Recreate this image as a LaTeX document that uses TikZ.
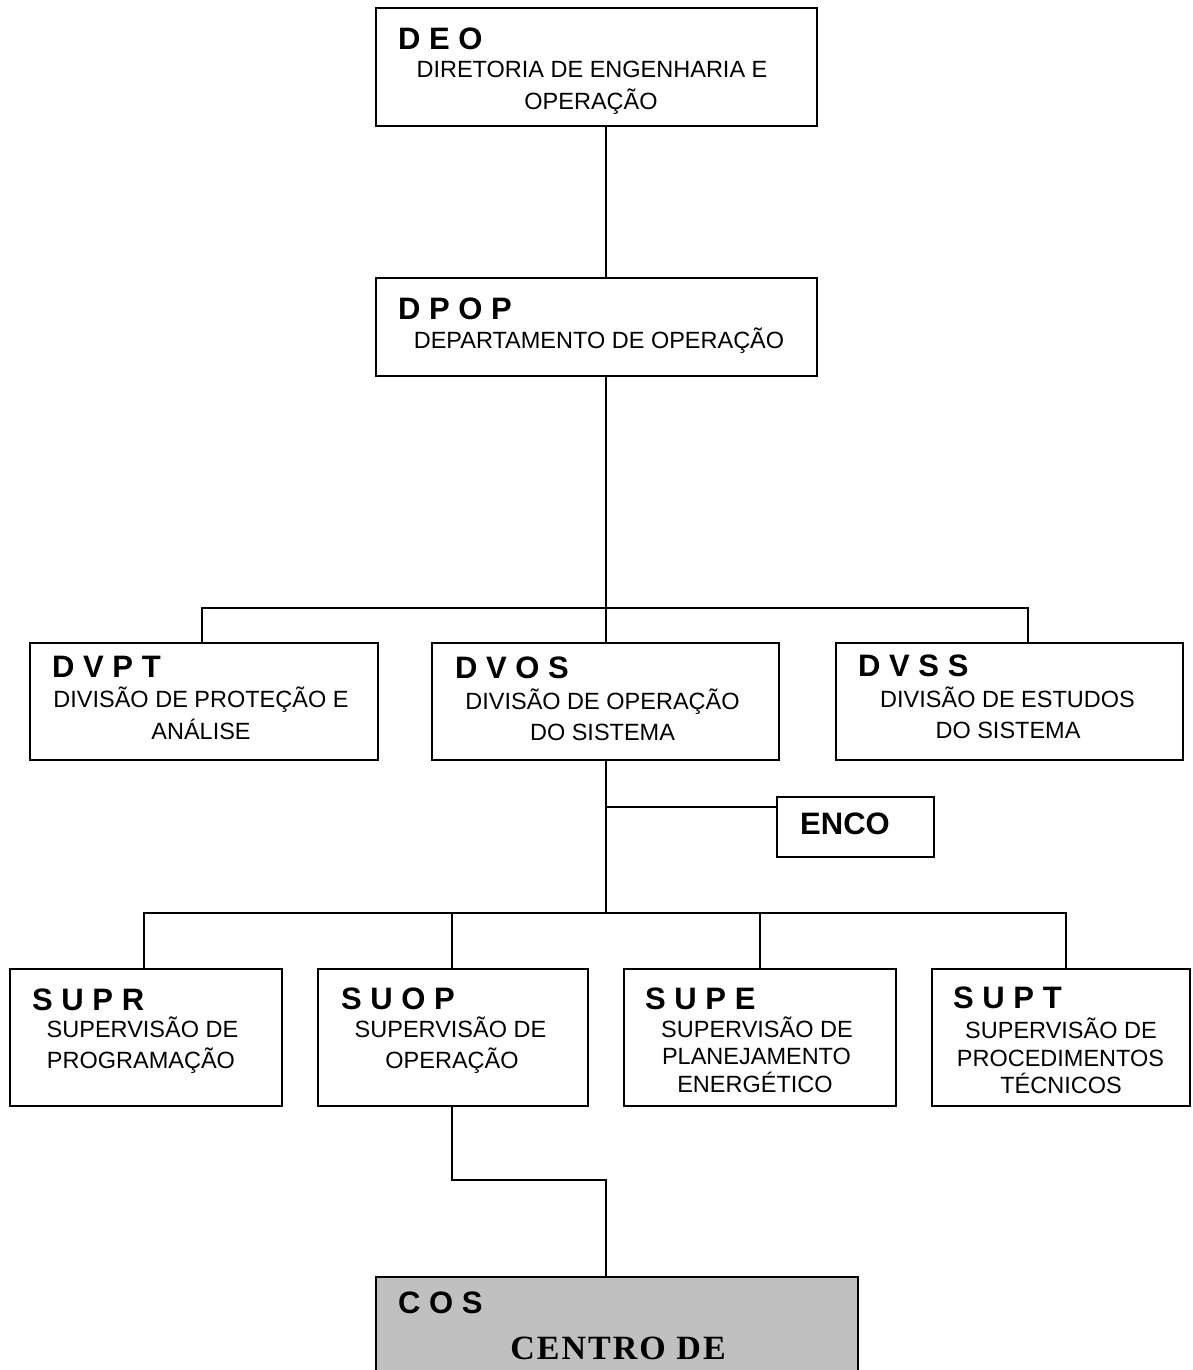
\documentclass[tikz,border=0pt]{standalone}
\usepackage{fontspec}
\setmainfont{Liberation Sans}
\newfontfamily\cosserif{Liberation Serif}[LetterSpace=6]
\definecolor{cosgray}{RGB}{192,192,192}
\tikzset{
  box/.style={draw=black, line width=2pt, rectangle, inner sep=0pt, outer sep=0pt},
  hd/.style={inner sep=0pt, anchor=base west, font=\fontsize{31}{31}\selectfont\bfseries},
  bd/.style={inner sep=0pt, anchor=base, font=\fontsize{23.5}{23.5}\selectfont},
  conn/.style={line width=2pt, line cap=rect}
}
\begin{document}
\begin{tikzpicture}[x=1pt,y=-1pt]
\useasboundingbox (0,0) rectangle (1192,1370);
\clip (0,0) rectangle (1192,1370);
\fill[white] (0,0) rectangle (1192,1370);

% ---------- boxes ----------
\node[box, minimum width=441pt, minimum height=118pt] (deo)  at (596.5,67) {};
\node[box, minimum width=441pt, minimum height=98pt]  (dpop) at (596.5,327) {};
\node[box, minimum width=348pt, minimum height=117pt] (dvpt) at (204,701.5) {};
\node[box, minimum width=347pt, minimum height=117pt] (dvos) at (605.5,701.5) {};
\node[box, minimum width=347pt, minimum height=117pt] (dvss) at (1009.5,701.5) {};
\node[box, minimum width=157pt, minimum height=60pt]  (enco) at (855.5,827) {};
\node[box, minimum width=272pt, minimum height=137pt] (supr) at (146,1037.5) {};
\node[box, minimum width=270pt, minimum height=137pt] (suop) at (453,1037.5) {};
\node[box, minimum width=272pt, minimum height=137pt] (supe) at (760,1037.5) {};
\node[box, minimum width=258pt, minimum height=137pt] (supt) at (1061,1037.5) {};
\node[box, fill=cosgray, minimum width=482pt, minimum height=123pt] (cos) at (617,1338.5) {};

% ---------- texts ----------
\node[hd] (deo-h) at (398,50) {D E O};
\node[bd] (deo-1) at (592,78) {DIRETORIA DE ENGENHARIA E};
\node[bd] (deo-2) at (591,110) {OPERAÇÃO};

\node[hd] (dpop-h) at (398,319) {D P O P};
\node[bd] (dpop-1) at (599,348) {DEPARTAMENTO DE OPERAÇÃO};

\node[hd] (dvpt-h) at (52,677) {D V P T};
\node[bd] (dvpt-1) at (201,707) {DIVISÃO DE PROTEÇÃO E};
\node[bd] (dvpt-2) at (201,739) {ANÁLISE};

\node[hd] (dvos-h) at (455,678) {D V O S};
\node[bd] (dvos-1) at (602.5,709) {DIVISÃO DE OPERAÇÃO};
\node[bd] (dvos-2) at (602.5,740) {DO SISTEMA};

\node[hd] (dvss-h) at (858,676) {D V S S};
\node[bd] (dvss-1) at (1007.5,707) {DIVISÃO DE ESTUDOS};
\node[bd] (dvss-2) at (1008,738) {DO SISTEMA};

\node[hd] (enco-h) at (800,834) {ENCO};

\node[hd] (supr-h) at (32,1010) {S U P R};
\node[bd] (supr-1) at (142.5,1037) {SUPERVISÃO DE};
\node[bd] (supr-2) at (141,1068) {PROGRAMAÇÃO};

\node[hd] (suop-h) at (341,1009) {S U O P};
\node[bd] (suop-1) at (450.5,1037) {SUPERVISÃO DE};
\node[bd] (suop-2) at (452,1068) {OPERAÇÃO};

\node[hd] (supe-h) at (645,1009) {S U P E};
\node[bd] (supe-1) at (757,1037) {SUPERVISÃO DE};
\node[bd] (supe-2) at (756.5,1064) {PLANEJAMENTO};
\node[bd] (supe-3) at (755,1092) {ENERGÉTICO};

\node[hd] (supt-h) at (953,1008) {S U P T};
\node[bd] (supt-1) at (1061,1038) {SUPERVISÃO DE};
\node[bd] (supt-2) at (1060.5,1066) {PROCEDIMENTOS};
\node[bd] (supt-3) at (1061,1093) {TÉCNICOS};

\node[hd] (cos-h) at (398,1313) {C O S};
\node[inner sep=0pt, anchor=base, font=\fontsize{34}{34}\cosserif\bfseries] (cos-1) at (618,1359) {CENTRO DE};

% ---------- connectors ----------
\coordinate (s) at (606,0);
\coordinate (b1) at (606,608);
\coordinate (b1l) at (202,608);
\coordinate (b1r) at (1028,608);
\draw[conn] (deo.south -| s) -- (dpop.north -| s);
\draw[conn] (dpop.south -| s) -- (b1);
\draw[conn] (b1l) -- (b1r);
\draw[conn] (b1l) -- (b1l |- dvpt.north);
\draw[conn] (b1) -- (b1 |- dvos.north);
\draw[conn] (b1r) -- (b1r |- dvss.north);

\coordinate (e) at (606,807);
\coordinate (b2) at (606,913);
\coordinate (b2l) at (144,913);
\coordinate (b2a) at (452,913);
\coordinate (b2b) at (760,913);
\coordinate (b2r) at (1066,913);
\draw[conn] (dvos.south -| s) -- (b2);
\draw[conn] (e) -- (e -| enco.west);
\draw[conn] (b2l) -- (b2r);
\draw[conn] (b2l) -- (b2l |- supr.north);
\draw[conn] (b2a) -- (b2a |- suop.north);
\draw[conn] (b2b) -- (b2b |- supe.north);
\draw[conn] (b2r) -- (b2r |- supt.north);

\coordinate (k1) at (452,1180);
\coordinate (k2) at (606,1180);
\draw[conn] (suop.south -| k1) -- (k1) -- (k2) -- (k2 |- cos.north);
\end{tikzpicture}
\end{document}
